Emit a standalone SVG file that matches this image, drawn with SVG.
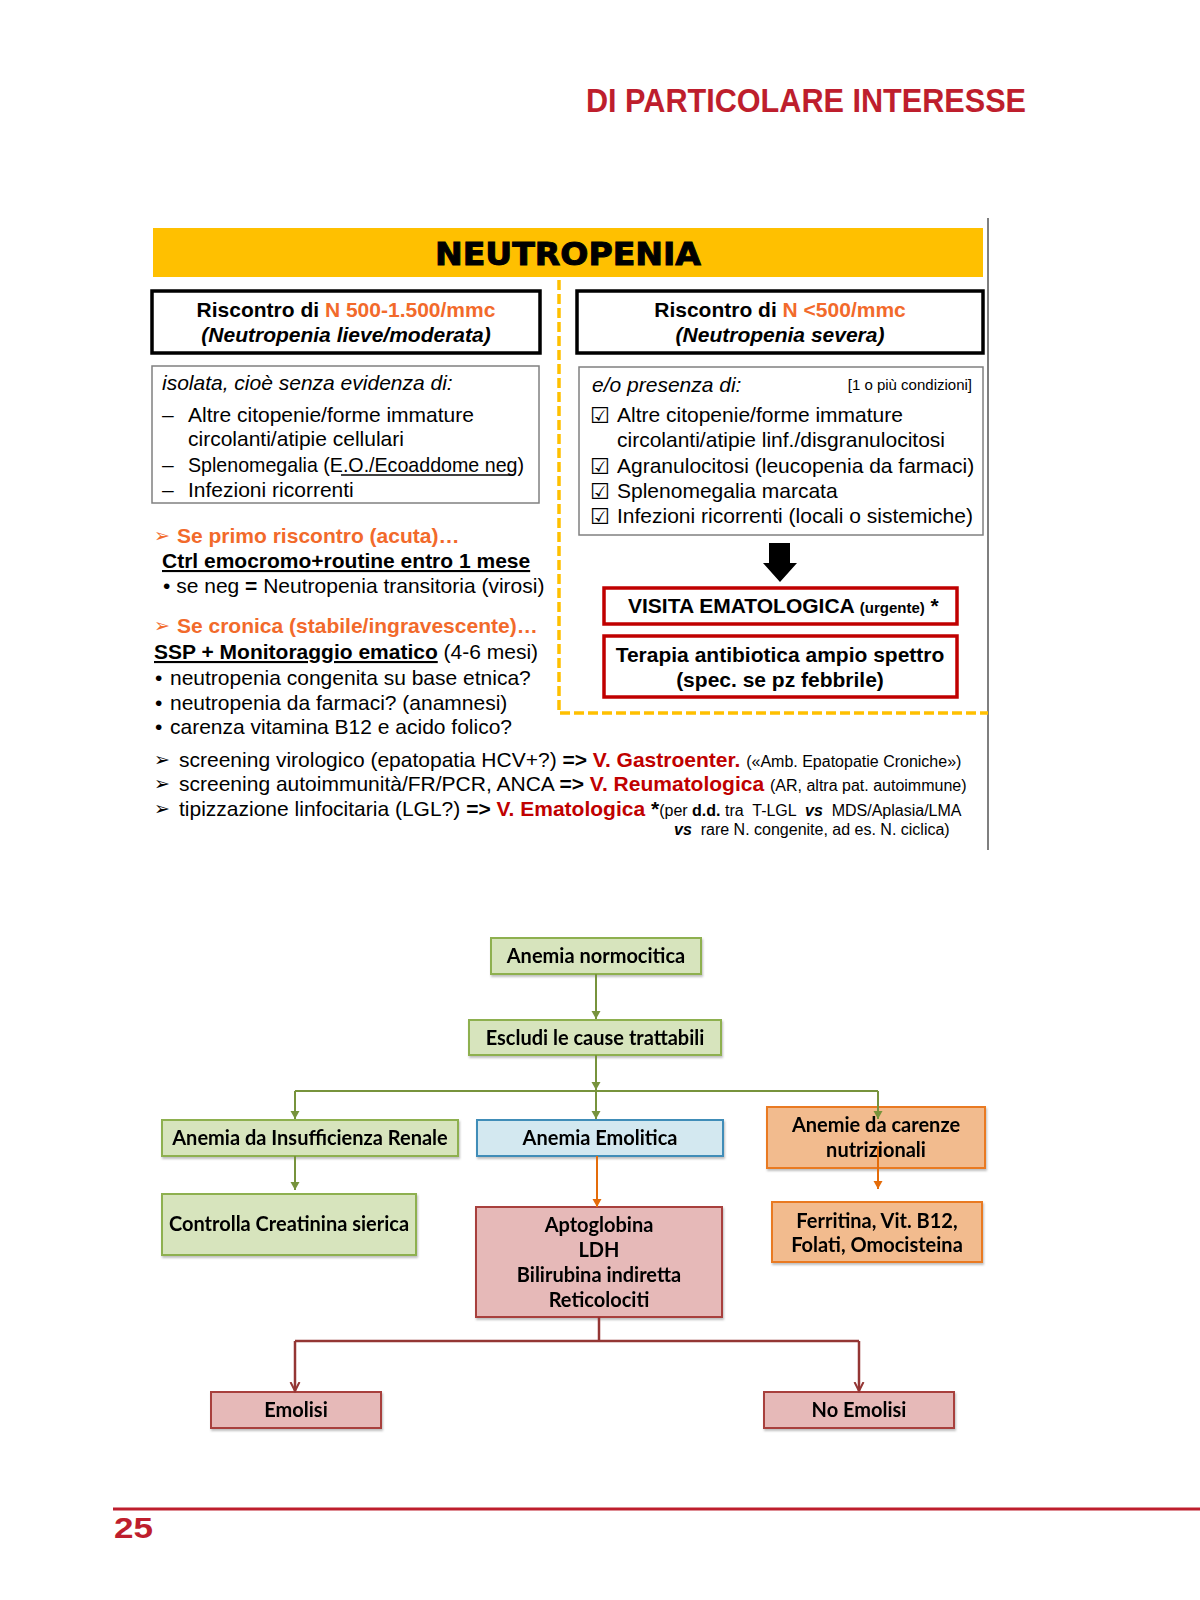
<svg xmlns="http://www.w3.org/2000/svg" width="1200" height="1600" viewBox="0 0 1200 1600">
<style>
.t{font-family:"Liberation Sans",Arial,sans-serif;font-size:21px;fill:#000}
.b{font-weight:bold}
.i{font-style:italic}
.or{fill:#F26A2B}
.rd{fill:#C00000}
.sm{font-size:16px}
.xs{font-size:15px}
.ck{font-family:"DejaVu Sans",sans-serif;font-size:22px}
.ar{font-family:"DejaVu Sans",sans-serif;font-size:19px}
.fc{font-family:Lato,"Open Sans",sans-serif;font-weight:700;font-size:20px;fill:#000;text-anchor:middle}
.gn{fill:#D7E4BD;stroke:#8EB04F;stroke-width:2}
.bl{fill:#D3E8F0;stroke:#3F8DB8;stroke-width:2}
.og{fill:#F2BB8E;stroke:#E97A23;stroke-width:2}
.pk{fill:#E6B9B8;stroke:#A8403D;stroke-width:2}
.cg{fill:none;stroke:#77933C;stroke-width:2}
.co{fill:none;stroke:#E46C0A;stroke-width:2}
.cr{fill:none;stroke:#943634;stroke-width:2.5}
</style>
<defs>
<filter id="sh" x="-10%" y="-10%" width="120%" height="140%"><feDropShadow dx="1" dy="2" stdDeviation="1.2" flood-color="#000" flood-opacity="0.25"/></filter>
<marker id="ag" markerUnits="userSpaceOnUse" markerWidth="10" markerHeight="10" refX="8" refY="5" orient="auto"><path d="M0,0.5 L8,5 L0,9.5 z" fill="#77933C"/></marker>
<marker id="ao" markerUnits="userSpaceOnUse" markerWidth="10" markerHeight="10" refX="8" refY="5" orient="auto"><path d="M0,0.5 L8,5 L0,9.5 z" fill="#E46C0A"/></marker>
<marker id="ar" markerUnits="userSpaceOnUse" markerWidth="12" markerHeight="12" refX="9" refY="6" orient="auto"><path d="M0,1.5 L9,6 L0,10.5" fill="none" stroke="#943634" stroke-width="2"/></marker>
</defs>

<rect width="1200" height="1600" fill="#fff"/>

<text x="586" y="112" font-family="'Liberation Sans Narrow','Liberation Sans',Arial,sans-serif" font-weight="bold" font-size="33" fill="#BE1E2D" textLength="440" lengthAdjust="spacingAndGlyphs">DI PARTICOLARE INTERESSE</text>

<g id="neutropenia">
<rect x="153" y="228" width="830" height="49" fill="#FFC000"/>
<text x="568" y="265" text-anchor="middle" font-family="'DejaVu Sans',sans-serif" font-weight="bold" font-size="32" fill="#000" stroke="#000" stroke-width="1" textLength="266" lengthAdjust="spacingAndGlyphs">NEUTROPENIA</text>
<line x1="988" y1="218" x2="988" y2="850" stroke="#7F7F7F" stroke-width="2"/>
<path d="M559,280 V713 H988" fill="none" stroke="#FFC000" stroke-width="3.5" stroke-dasharray="10 4"/>
</g>

<g id="lieve-title">
<rect x="152" y="291" width="388" height="62" fill="#fff" stroke="#000" stroke-width="3.5"/>
<text x="346" y="317" text-anchor="middle" class="t b">Riscontro di <tspan class="or">N 500-1.500/mmc</tspan></text>
<text x="346" y="342" text-anchor="middle" class="t b i">(Neutropenia lieve/moderata)</text>
</g>

<g id="severa-title">
<rect x="577" y="291" width="406" height="62" fill="#fff" stroke="#000" stroke-width="3.5"/>
<text x="780" y="317" text-anchor="middle" class="t b">Riscontro di <tspan class="or">N &lt;500/mmc</tspan></text>
<text x="780" y="342" text-anchor="middle" class="t b i">(Neutropenia severa)</text>
</g>

<g id="lieve-box">
<rect x="152" y="366" width="387" height="137" fill="#fff" stroke="#808080" stroke-width="1.5"/>
<text x="162" y="390" class="t i">isolata, cioè senza evidenza di:</text>
<text x="162" y="422" class="t">–</text>
<text x="188" y="422" class="t">Altre citopenie/forme immature</text>
<text x="188" y="446" class="t">circolanti/atipie cellulari</text>
<text x="162" y="472" class="t">–</text>
<text x="188" y="472" class="t" textLength="336" lengthAdjust="spacingAndGlyphs">Splenomegalia (E.O./Ecoaddome neg)</text>
<line x1="341" y1="475" x2="513" y2="475" stroke="#000" stroke-width="1.3"/>
<text x="162" y="497" class="t">–</text>
<text x="188" y="497" class="t">Infezioni ricorrenti</text>
</g>

<g id="severa-box">
<rect x="579" y="367" width="404" height="168" fill="#fff" stroke="#808080" stroke-width="1.5"/>
<text x="592" y="392" class="t i">e/o presenza di:</text>
<text x="972" y="390" text-anchor="end" class="t xs">[1 o più condizioni]</text>
<text x="590" y="423" class="ck">☑</text>
<text x="617" y="422" class="t">Altre citopenie/forme immature</text>
<text x="617" y="447" class="t">circolanti/atipie linf./disgranulocitosi</text>
<text x="590" y="474" class="ck">☑</text>
<text x="617" y="473" class="t">Agranulocitosi (leucopenia da farmaci)</text>
<text x="590" y="499" class="ck">☑</text>
<text x="617" y="498" class="t">Splenomegalia marcata</text>
<text x="590" y="524" class="ck">☑</text>
<text x="617" y="523" class="t">Infezioni ricorrenti (locali o sistemiche)</text>
</g>

<g id="black-arrow">
<polygon points="769,543 790,543 790,563 797,563 780,582 763,563 769,563" fill="#000"/>
</g>

<g id="visita">
<rect x="604" y="588" width="353" height="36" fill="#fff" stroke="#C00000" stroke-width="3.5"/>
<text x="628" y="613" class="t b">VISITA EMATOLOGICA <tspan class="xs">(urgente)</tspan> *</text>
</g>

<g id="terapia">
<rect x="604" y="636" width="353" height="61" fill="#fff" stroke="#C00000" stroke-width="3.5"/>
<text x="780" y="662" text-anchor="middle" class="t b">Terapia antibiotica ampio spettro</text>
<text x="780" y="687" text-anchor="middle" class="t b">(spec. se pz febbrile)</text>
</g>

<g id="left-notes">
<text x="154" y="542" class="ar or">➢</text>
<text x="177" y="543" class="t b or">Se primo riscontro (acuta)…</text>
<text x="162" y="568" class="t b" text-decoration="underline">Ctrl emocromo+routine entro 1 mese</text>
<text x="163" y="593" class="t">• se neg <tspan class="b">=</tspan> Neutropenia transitoria (virosi)</text>
<text x="154" y="632" class="ar or">➢</text>
<text x="177" y="633" class="t b or">Se cronica (stabile/ingravescente)…</text>
<text x="154" y="659" class="t"><tspan class="b" text-decoration="underline">SSP + Monitoraggio ematico</tspan> (4-6 mesi)</text>
<text x="155" y="685" class="t">•</text>
<text x="170" y="685" class="t">neutropenia congenita su base etnica?</text>
<text x="155" y="710" class="t">•</text>
<text x="170" y="710" class="t">neutropenia da farmaci? (anamnesi)</text>
<text x="155" y="734" class="t">•</text>
<text x="170" y="734" class="t">carenza vitamina B12 e acido folico?</text>
</g>

<g id="screening">
<text x="154" y="766" class="ar">➢</text>
<text x="179" y="767" class="t">screening virologico (epatopatia HCV+?) <tspan class="b">=&gt;</tspan> <tspan class="b rd">V. Gastroenter.</tspan> <tspan class="sm">(«Amb. Epatopatie Croniche»)</tspan></text>
<text x="154" y="790" class="ar">➢</text>
<text x="179" y="791" class="t">screening autoimmunità/FR/PCR, ANCA <tspan class="b">=&gt;</tspan> <tspan class="b rd">V. Reumatologica</tspan> <tspan class="sm">(AR, altra pat. autoimmune)</tspan></text>
<text x="154" y="815" class="ar">➢</text>
<text x="179" y="816" class="t" xml:space="preserve">tipizzazione linfocitaria (LGL?) <tspan class="b">=&gt;</tspan> <tspan class="b rd">V. Ematologica</tspan> <tspan class="b">*</tspan><tspan class="sm">(per <tspan class="b">d.d.</tspan> tra  T-LGL  <tspan class="b i">vs</tspan>  MDS/Aplasia/LMA</tspan></text>
<text x="674" y="835" class="t sm" xml:space="preserve"><tspan class="b i">vs</tspan>  rare N. congenite, ad es. N. ciclica)</text>
</g>

<g id="n-normocitica" filter="url(#sh)">
<rect x="491" y="938" width="210" height="36" class="gn"/>
<text x="596" y="963" class="fc">Anemia normocitica</text>
</g>
<g id="n-escludi" filter="url(#sh)">
<rect x="469" y="1020" width="252" height="35" class="gn"/>
<text x="595" y="1045" class="fc">Escludi le cause trattabili</text>
</g>
<g id="n-renale" filter="url(#sh)">
<rect x="162" y="1120" width="296" height="36" class="gn"/>
<text x="310" y="1145" class="fc">Anemia da Insufficienza Renale</text>
</g>
<g id="n-emolitica" filter="url(#sh)">
<rect x="477" y="1120" width="246" height="36" class="bl"/>
<text x="600" y="1145" class="fc">Anemia Emolitica</text>
</g>
<g id="n-carenze" filter="url(#sh)">
<rect x="767" y="1107" width="218" height="61" class="og"/>
<text x="876" y="1132" class="fc">Anemie da carenze</text>
<text x="876" y="1157" class="fc">nutrizionali</text>
</g>
<g id="n-creatinina" filter="url(#sh)">
<rect x="162" y="1194" width="254" height="61" class="gn"/>
<text x="289" y="1231" class="fc">Controlla Creatinina sierica</text>
</g>
<g id="n-aptoglobina" filter="url(#sh)">
<rect x="476" y="1207" width="246" height="110" class="pk"/>
<text x="599" y="1232" class="fc">Aptoglobina</text>
<text x="599" y="1257" class="fc">LDH</text>
<text x="599" y="1282" class="fc">Bilirubina indiretta</text>
<text x="599" y="1307" class="fc">Reticolociti</text>
</g>
<g id="n-ferritina" filter="url(#sh)">
<rect x="772" y="1202" width="210" height="60" class="og"/>
<text x="877" y="1228" class="fc">Ferritina, Vit. B12,</text>
<text x="877" y="1252" class="fc">Folati, Omocisteina</text>
</g>
<g id="n-emolisi" filter="url(#sh)">
<rect x="211" y="1392" width="170" height="36" class="pk"/>
<text x="296" y="1417" class="fc">Emolisi</text>
</g>
<g id="n-noemolisi" filter="url(#sh)">
<rect x="764" y="1392" width="190" height="36" class="pk"/>
<text x="859" y="1417" class="fc">No Emolisi</text>
</g>

<g id="connectors">
<path d="M596,974 V1019" class="cg" marker-end="url(#ag)"/>
<path d="M596,1055 V1090" class="cg" marker-end="url(#ag)"/>
<path d="M295,1091 H878" class="cg"/>
<path d="M295,1091 V1119" class="cg" marker-end="url(#ag)"/>
<path d="M596,1091 V1119" class="cg" marker-end="url(#ag)"/>
<path d="M878,1091 V1119" class="cg" marker-end="url(#ag)"/>
<path d="M295,1156 V1190" class="cg" marker-end="url(#ag)"/>
<path d="M597,1156 V1207" class="co" marker-end="url(#ao)"/>
<path d="M878,1146 V1189" class="co" marker-end="url(#ao)"/>
<path d="M599,1317 V1341" class="cr"/>
<path d="M295,1341 H859" class="cr"/>
<path d="M295,1341 V1391" class="cr" marker-end="url(#ar)"/>
<path d="M859,1341 V1391" class="cr" marker-end="url(#ar)"/>
</g>

<g id="footer">
<line x1="113" y1="1509" x2="1200" y2="1509" stroke="#BE1E2D" stroke-width="3"/>
<text x="114" y="1538" font-family="'Liberation Sans Narrow','Liberation Sans',Arial,sans-serif" font-weight="bold" font-size="30" fill="#BE1E2D" textLength="39" lengthAdjust="spacingAndGlyphs">25</text>
</g>
</svg>
